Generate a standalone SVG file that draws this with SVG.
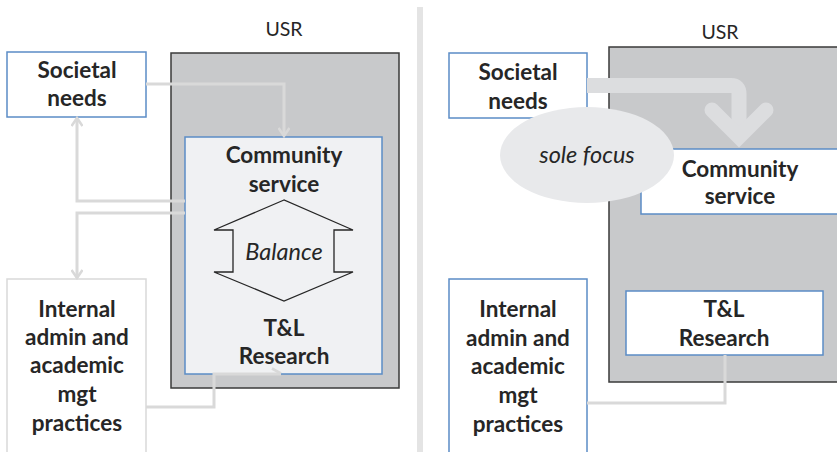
<svg xmlns="http://www.w3.org/2000/svg" width="837" height="452" viewBox="0 0 837 452">
  <style>
    .lbl { font-family: Lato, "Liberation Sans", sans-serif; font-weight: bold; font-size: 22.5px; fill: #262626; text-anchor: middle; }
    .ttl { font-family: Lato, "Liberation Sans", sans-serif; font-size: 19.5px; fill: #262626; text-anchor: middle; }
    .ital { font-family: Lato, "Liberation Sans", sans-serif; font-style: italic; font-size: 23.5px; fill: #262626; text-anchor: middle; }
    .usr { fill: #c8c9cb; stroke: #3a3a3a; stroke-width: 1.5; }
    .node { fill: #ffffff; stroke: #5b8cc6; stroke-width: 1.5; }
    .soft { fill: #ffffff; stroke: #d9d9d9; stroke-width: 1.5; }
    .conn { fill: none; stroke: #d9d9d9; stroke-width: 3; }
  </style>
  <defs>
    <marker id="chev" viewBox="0 0 12 12" refX="10" refY="6" markerWidth="12" markerHeight="12" markerUnits="userSpaceOnUse" orient="auto">
      <path d="M2,0.5 L10,6 L2,11.5" fill="none" stroke="#d9d9d9" stroke-width="2.6"/>
    </marker>
  </defs>

  <!-- divider between the two panels -->
  <rect x="417" y="7" width="6" height="445" fill="#e4e4e4"/>

  <!-- ===== left panel ===== -->
  <g id="usr-left">
    <text class="ttl" x="284" y="36">USR</text>
    <rect class="usr" x="171" y="53" width="228" height="335"/>
  </g>
  <g id="core-left">
    <rect x="185" y="137" width="197" height="237" fill="#f0f1f3" stroke="#5b8cc6" stroke-width="1.5"/>
    <text class="lbl" x="284" y="163">Community</text>
    <text class="lbl" x="284" y="192">service</text>
    <text class="lbl" x="284" y="336">T&amp;L</text>
    <text class="lbl" x="284" y="364">Research</text>
  </g>
  <g id="balance">
    <polygon points="284,200 214,230 233,230 233,272 214,272 284,301 353,272 334,272 334,230 353,230" fill="none" stroke="#262626" stroke-width="1.3"/>
    <text class="ital" x="284" y="260">Balance</text>
  </g>
  <g id="needs-left">
    <rect class="node" x="7" y="52" width="139" height="65"/>
    <text class="lbl" x="77" y="78">Societal</text>
    <text class="lbl" x="77" y="106">needs</text>
  </g>
  <g id="internal-left">
    <rect class="soft" x="7" y="279" width="139" height="180"/>
    <text class="lbl" x="77" y="317">Internal</text>
    <text class="lbl" x="77" y="345">admin and</text>
    <text class="lbl" x="77" y="373">academic</text>
    <text class="lbl" x="77" y="402">mgt</text>
    <text class="lbl" x="77" y="431">practices</text>
  </g>
  <g id="connectors-left">
    <path class="conn" d="M146,84 H284 V136" marker-end="url(#chev)"/>
    <path class="conn" d="M185,201 H77 V118" marker-end="url(#chev)"/>
    <path class="conn" d="M185,213 H77 V278" marker-end="url(#chev)"/>
    <path class="conn" d="M146,407 H214 V374 H281"/>
    <path d="M272,368.5 L281,373.5" fill="none" stroke="#d9d9d9" stroke-width="2.6"/>
  </g>

  <!-- ===== right panel ===== -->
  <g id="usr-right">
    <text class="ttl" x="720" y="39">USR</text>
    <rect class="usr" x="609" y="47" width="240" height="335"/>
  </g>
  <g id="needs-right">
    <rect class="node" x="449" y="53" width="138" height="65"/>
    <text class="lbl" x="518" y="80">Societal</text>
    <text class="lbl" x="518" y="109">needs</text>
  </g>
  <g id="focus-arrow">
    <path d="M587,85.5 H731 Q739,85.5 739,94 V137" fill="none" stroke="#dcdddf" stroke-width="15"/>
    <path d="M712,110 L739,137 L766,110" fill="none" stroke="#dcdddf" stroke-width="15" stroke-linecap="round" stroke-linejoin="miter" stroke-miterlimit="4"/>
  </g>
  <g id="community-right">
    <rect class="node" x="641" y="149" width="210" height="65"/>
    <text class="lbl" x="740" y="177">Community</text>
    <text class="lbl" x="740" y="204">service</text>
  </g>
  <g id="sole-focus">
    <ellipse cx="587" cy="155" rx="87" ry="48" fill="#e8e9eb"/>
    <text class="ital" x="587" y="163">sole focus</text>
  </g>
  <g id="tl-right">
    <rect class="node" x="626" y="291" width="197" height="64"/>
    <text class="lbl" x="724" y="317">T&amp;L</text>
    <text class="lbl" x="724" y="346">Research</text>
  </g>
  <g id="internal-right">
    <rect class="node" x="449" y="279" width="138" height="180"/>
    <text class="lbl" x="518" y="317">Internal</text>
    <text class="lbl" x="518" y="346">admin and</text>
    <text class="lbl" x="518" y="374">academic</text>
    <text class="lbl" x="518" y="403">mgt</text>
    <text class="lbl" x="518" y="432">practices</text>
  </g>
  <g id="connectors-right">
    <path class="conn" d="M587,403 H725 V355"/>
  </g>
</svg>
